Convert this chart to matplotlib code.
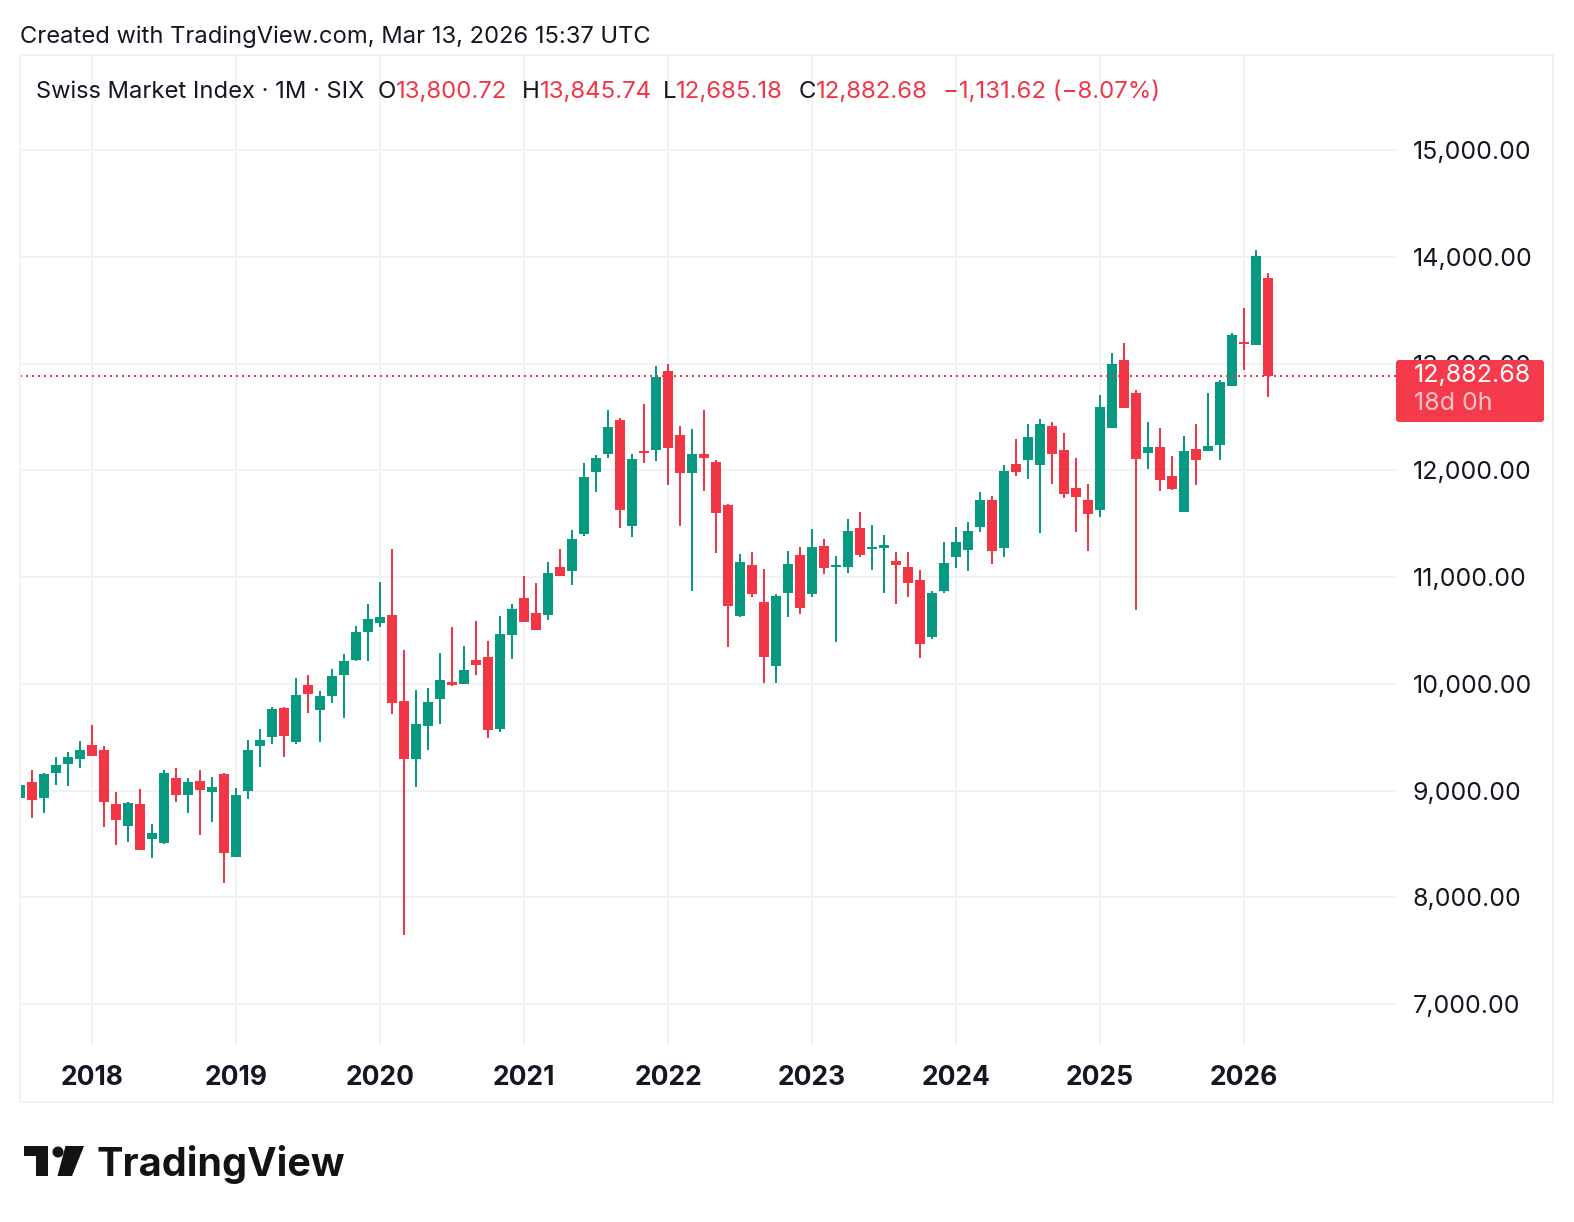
import numpy as np
import matplotlib
matplotlib.use("Agg")
import matplotlib.pyplot as plt
from matplotlib.patches import FancyBboxPatch, Rectangle, Polygon, Circle

plt.rcParams['font.family'] = ['Inter', 'DejaVu Sans']

# monthly candles, first one is Jul 2017
opens = [8932, 9082, 8932, 9166, 9250, 9297,
         9428, 9382, 8876, 8670, 8876, 8548, 8510, 9119, 8960, 9091, 8988, 9157,
         8379, 8998, 9419, 9503, 9775, 9457, 9991, 9756, 9888, 10084, 10225, 10487,
         10571, 10646, 9841, 9297, 9607, 9859, 10019, 10000, 10225, 10253, 9578, 10459,
         10806, 10665, 10646, 11096, 11059, 11405, 11986, 12155, 12473, 11480, 12183, 12192,
         12932, 12333, 11977, 12155, 12080, 11677, 10637, 11115, 10768, 10169, 10853, 11209,
         10843, 11293, 11096, 11096, 11462, 11265, 11274, 11152, 11096, 10974, 10440, 10871,
         11190, 11255, 11471, 11724, 11274, 12061, 12099, 12052, 12417, 12192, 11836, 11724,
         11630, 12398, 13036, 12726, 12164, 12220, 11949, 11611, 12202, 12183, 12239, 12792,
         13204, 13176, 13800.72]
highs = [9101, 9194, 9166, 9316, 9363, 9466,
         9616, 9419, 8988, 8894, 9016, 8688, 9194, 9213, 9119, 9194, 9129, 9166,
         9026, 9475, 9578, 9785, 9785, 10056, 10084, 9934, 10141, 10281, 10543, 10750,
         10956, 11265, 10319, 9944, 9963, 10290, 10534, 10356, 10590, 10403, 10637, 10750,
         11012, 10946, 11143, 11265, 11443, 12071, 12146, 12567, 12492, 12155, 12623, 12979,
         12998, 12417, 12389, 12567, 12099, 11686, 11218, 11237, 11077, 10843, 11246, 11284,
         11452, 11358, 11199, 11546, 11611, 11490, 11396, 11237, 11237, 11068, 10871, 11330,
         11471, 11518, 11799, 11761, 12052, 12295, 12436, 12483, 12455, 12352, 12117, 11874,
         12708, 13101, 13195, 12754, 12455, 12398, 12136, 12323, 12436, 12726, 12848, 13288,
         13523, 14066, 13845.74]
lows = [8829, 8745, 8791, 9054, 9044, 9213,
        9325, 8660, 8492, 8520, 8445, 8370, 8501, 8894, 8791, 8585, 8707, 8136,
        8379, 8923, 9222, 9438, 9316, 9438, 9728, 9457, 9822, 9681, 10215, 10215,
        10534, 9719, 7650, 9035, 9382, 9625, 9981, 10000, 10084, 9494, 9550, 10234,
        10581, 10506, 10600, 11012, 10928, 11387, 11799, 12117, 11462, 11377, 12071, 12089,
        11864, 11480, 10871, 11808, 11227, 10347, 10628, 10815, 10009, 10009, 10628, 10656,
        10815, 11031, 10393, 11040, 11190, 11068, 10853, 10750, 10815, 10244, 10422, 10853,
        11087, 11059, 11424, 11124, 11190, 11949, 11921, 11415, 11874, 11743, 11424, 11246,
        11565, 12398, 12586, 10693, 12014, 11808, 11818, 11611, 11864, 12183, 12099, 12792,
        12942, 13176, 12685.18]
closes = [9054, 8913, 9157, 9241, 9316, 9382,
          9325, 8894, 8726, 8885, 8445, 8604, 9166, 8960, 9082, 9007, 9035, 8417,
          8960, 9382, 9475, 9766, 9513, 9897, 9906, 9888, 10075, 10215, 10487, 10609,
          10628, 9822, 9297, 9625, 9831, 10037, 9991, 10131, 10178, 9569, 10468, 10703,
          10581, 10506, 11040, 11012, 11358, 11939, 12117, 12408, 11630, 12108, 12164, 12876,
          12211, 11977, 12155, 12117, 11602, 10731, 11143, 10843, 10253, 10824, 11124, 10712,
          11284, 11087, 11115, 11433, 11209, 11284, 11302, 11115, 10946, 10375, 10853, 11134,
          11330, 11433, 11724, 11246, 11996, 11986, 12314, 12436, 12155, 11780, 11752, 11593,
          12595, 12998, 12586, 12108, 12220, 11911, 11827, 12183, 12099, 12230, 12829, 13270,
          13185, 14010, 12882.68]

years = [2018, 2019, 2020, 2021, 2022, 2023, 2024, 2025, 2026]
price_ticks = [7000, 8000, 9000, 10000, 11000, 12000, 13000, 14000, 15000]
last_price = 12882.68

UP = '#089981'
DOWN = '#F23645'
INK = '#131722'
GRID = '#F1F2F4'
W, H = 1574, 1222

fig = plt.figure(figsize=(W / 100, H / 100), dpi=100, facecolor='white')

# chart pane, 12 px per month
ax = fig.add_axes([20 / W, 1 - 1046 / H, 1376 / W, 991 / H])
ax.set_xlim(0, 1376 / 12)
ax.set_ylim(6606.6, 15890)

o = np.array(opens)
h = np.array(highs)
l = np.array(lows)
c = np.array(closes)
idx = np.arange(len(o))
cols = [UP if cc >= oo else DOWN for oo, cc in zip(o, c)]

ax.vlines(idx, l, h, colors=cols, linewidth=1.44, zorder=3, antialiased=False)
ax.bar(idx, np.abs(c - o), bottom=np.minimum(o, c), width=10 / 12, color=cols, linewidth=0, zorder=3)
ax.axhline(last_price, color=DOWN, linewidth=1.44, linestyle=(0, (1, 2)), zorder=4)

ax.set_yticks(price_ticks)
ax.set_yticklabels(['{:,.2f}'.format(p) for p in price_ticks], fontsize=18, color=INK)
ax.yaxis.tick_right()
ax.set_xticks([6 + 12 * i for i in range(len(years))])
ax.set_xticklabels(years, fontsize=19, fontweight='bold', color=INK)
ax.tick_params(axis='y', length=0, pad=12)
ax.tick_params(axis='x', length=0, pad=14)
ax.grid(True, color=GRID, linewidth=1.44)
ax.set_axisbelow(True)
for s in ax.spines.values():
    s.set_visible(False)

# overlay in pixel coordinates for frame, header, price tag, logo
ov = fig.add_axes([0, 0, 1, 1], zorder=5)
ov.set_xlim(0, W)
ov.set_ylim(H, 0)
ov.axis('off')
ov.patch.set_alpha(0)

ov.add_patch(Rectangle((20, 55), 1533, 1047, fill=False, edgecolor=GRID, linewidth=1.44))

ov.text(20, 37, 'Created with TradingView.com, Mar 13, 2026 15:37 UTC', fontsize=17.1, color=INK, va='center')

ov.text(36, 92, 'Swiss Market Index · 1M · SIX', fontsize=17.1, color=INK, va='center')
legend_bits = [(378, 'O', INK), (396, '13,800.72', DOWN), (522, 'H', INK), (540, '13,845.74', DOWN),
               (663, 'L', INK), (676, '12,685.18', DOWN), (799, 'C', INK), (816, '12,882.68', DOWN),
               (943, '−1,131.62 (−8.07%)', DOWN)]
for x, t, col in legend_bits:
    ov.text(x, 92, t, fontsize=17.3, color=col, va='center')

ov.add_patch(FancyBboxPatch((1396, 360), 148, 62, boxstyle='round,pad=0,rounding_size=3', facecolor='#F43A4B', edgecolor='none'))
ov.text(1414, 376, '12,882.68', fontsize=18, color='white', va='center')
ov.text(1414, 404, '18d 0h', fontsize=18, color='white', alpha=0.7, va='center')

# logo mark
logo = '#131313'
ov.add_patch(Polygon([(24, 1146), (48, 1146), (48, 1176), (36, 1176), (36, 1156), (24, 1156)], closed=True, facecolor=logo, edgecolor='none'))
ov.add_patch(Circle((58, 1152), 5.5, facecolor=logo, edgecolor='none'))
ov.add_patch(Polygon([(65.5, 1146), (84, 1146), (72, 1176), (57.5, 1176)], closed=True, facecolor=logo, edgecolor='none'))
ov.text(97, 1165, 'TradingView', fontsize=28.5, fontweight='bold', color=logo, va='center')

fig.savefig('out.png', dpi=100, facecolor='white')
